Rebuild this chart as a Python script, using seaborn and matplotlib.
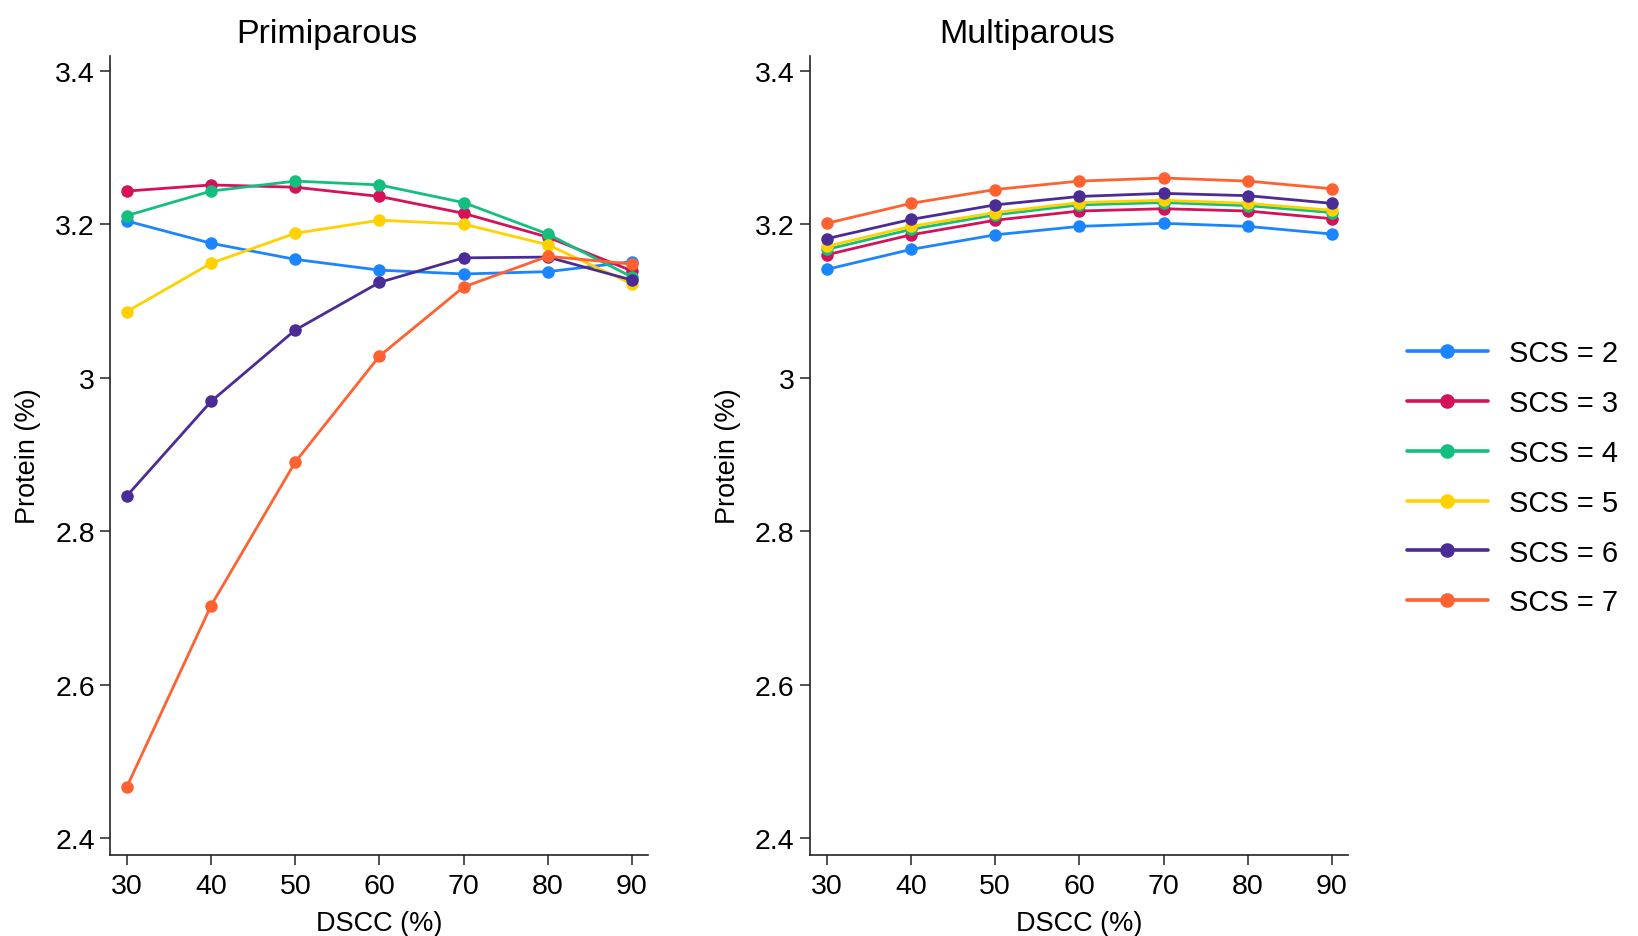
import numpy as np
import pandas as pd
import matplotlib
matplotlib.use("Agg")
import matplotlib.pyplot as plt
import seaborn as sns
from matplotlib.lines import Line2D

dscc = [30, 40, 50, 60, 70, 80, 90]
scs_levels = [2, 3, 4, 5, 6, 7]

# Primiparous
prim_scs2 = [3.204, 3.175, 3.154, 3.140, 3.135, 3.138, 3.151]
prim_scs3 = [3.243, 3.251, 3.248, 3.236, 3.214, 3.183, 3.139]
prim_scs4 = [3.211, 3.243, 3.256, 3.251, 3.228, 3.187, 3.131]
prim_scs5 = [3.086, 3.149, 3.188, 3.205, 3.200, 3.173, 3.122]
prim_scs6 = [2.846, 2.969, 3.062, 3.124, 3.156, 3.157, 3.127]
prim_scs7 = [2.467, 2.703, 2.890, 3.028, 3.118, 3.158, 3.148]

# Multiparous
mult_scs2 = [3.141, 3.167, 3.186, 3.197, 3.201, 3.197, 3.187]
mult_scs3 = [3.160, 3.186, 3.205, 3.217, 3.220, 3.217, 3.207]
mult_scs4 = [3.167, 3.193, 3.212, 3.225, 3.228, 3.224, 3.215]
mult_scs5 = [3.171, 3.197, 3.215, 3.228, 3.231, 3.227, 3.218]
mult_scs6 = [3.181, 3.206, 3.225, 3.236, 3.240, 3.237, 3.227]
mult_scs7 = [3.201, 3.227, 3.245, 3.256, 3.260, 3.256, 3.246]

titles = ["Primiparous", "Multiparous"]
colors = ["#1A85FF", "#D41159", "#12BF7E", "#FFD100", "#4B2C96", "#FF6131"]
labels = [f"SCS = {s}" for s in scs_levels]

def make_df(series):
    rows = []
    for s, vals in zip(scs_levels, series):
        for x, v in zip(dscc, vals):
            rows.append({"DSCC": x, "Protein": v, "SCS": f"SCS = {s}"})
    return pd.DataFrame(rows)

df_prim = make_df([prim_scs2, prim_scs3, prim_scs4, prim_scs5, prim_scs6, prim_scs7])
df_mult = make_df([mult_scs2, mult_scs3, mult_scs4, mult_scs5, mult_scs6, mult_scs7])

sns.set_theme(style="white")
plt.rcParams["font.family"] = ["Liberation Sans", "DejaVu Sans"]
plt.rcParams["text.color"] = "black"
plt.rcParams["axes.labelcolor"] = "black"

fig = plt.figure(figsize=(16.38, 9.37), dpi=100)
ax1 = fig.add_axes([0.0672, 0.0864, 0.3284, 0.8528])
ax2 = fig.add_axes([0.4945, 0.0864, 0.3284, 0.8528])

palette = dict(zip(labels, colors))
for ax, df, title in zip([ax1, ax2], [df_prim, df_mult], titles):
    sns.lineplot(data=df, x="DSCC", y="Protein", hue="SCS", hue_order=labels,
                 palette=palette, marker="o", markersize=9, markeredgewidth=0,
                 linewidth=2.0, ax=ax, legend=False)
    ax.set_xlim(28.0, 91.9)
    ax.set_ylim(2.378, 3.419)
    ax.set_xticks(dscc)
    ax.set_yticks([2.4, 2.6, 2.8, 3.0, 3.2, 3.4])
    ax.set_yticklabels(["2.4", "2.6", "2.8", "3", "3.2", "3.4"])
    ax.tick_params(axis="both", which="major", direction="out", length=7, width=1.1,
                   labelsize=20.5, colors="#222222", labelcolor="black", pad=4,
                   left=True, bottom=True)
    ax.tick_params(axis="x", pad=6)
    for side in ["top", "right"]:
        ax.spines[side].set_visible(False)
    for side in ["left", "bottom"]:
        ax.spines[side].set_color("#222222")
        ax.spines[side].set_linewidth(1.2)
    ax.set_xlabel("DSCC (%)", fontsize=19.5, labelpad=8, color="black")
    ax.set_ylabel("Protein (%)", fontsize=19.5, labelpad=10, color="black")
    ax.set_title(title, fontsize=24.5, x=0.403, pad=10, color="black")
    ax.grid(False)

handles = [Line2D([0], [0], color=c, lw=2.6, marker="o", markersize=10.5,
                  markeredgewidth=0) for c in colors]
fig.legend(handles, labels, loc="center left", bbox_to_anchor=(0.8428, 0.489),
           frameon=False, fontsize=21, handlelength=2.78, handletextpad=0.72,
           labelspacing=0.75)

fig.savefig("out.png", dpi=100, facecolor="white")
